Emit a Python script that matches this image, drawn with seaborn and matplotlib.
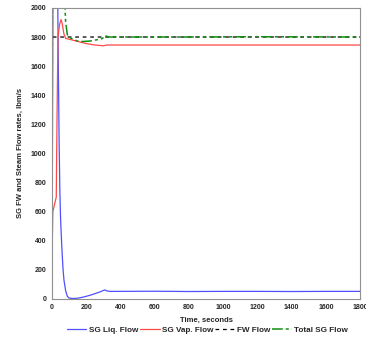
import numpy as np
import pandas as pd
import matplotlib
matplotlib.use('Agg')
import matplotlib.pyplot as plt
import seaborn as sns

# values (time in s, flow in lbm/s)
liq_t = [0, 4, 6, 30, 34, 38, 42, 46, 50, 55, 60, 65, 70, 80, 90, 100, 120, 150, 180, 200, 230, 260, 280, 300, 310, 320, 340, 400, 600, 800, 1000, 1200, 1400, 1600, 1800]
liq_v = [0, 1500, 2300, 2300, 2000, 1500, 1050, 750, 560, 420, 300, 200, 130, 55, 18, 6, 3, 5, 12, 18, 28, 40, 48, 58, 62, 55, 52, 52, 53, 51, 52, 52, 51, 52, 52]

vap_t = [0, 2, 5, 15, 25, 30, 35, 45, 53, 60, 70, 80, 100, 150, 200, 250, 300, 320, 400, 800, 1200, 1800]
vap_v = [0, 400, 600, 650, 700, 1300, 1800, 1890, 1920, 1890, 1820, 1790, 1785, 1770, 1755, 1745, 1740, 1745, 1745, 1745, 1745, 1745]

fw_t = [0, 1, 1800]
fw_v = [0, 1800, 1800]

tot_t = [0, 3, 60, 70, 80, 90, 100, 120, 160, 220, 280, 295, 310, 330, 400, 800, 1200, 1800]
tot_v = [0, 2500, 2500, 2150, 1900, 1815, 1800, 1785, 1768, 1772, 1785, 1790, 1810, 1800, 1800, 1800, 1802, 1800]

sns.set_style('white')
plt.rcParams['font.family'] = ['Liberation Sans', 'DejaVu Sans']
plt.rcParams['font.weight'] = 'bold'

fig = plt.figure(figsize=(3.66, 3.44), dpi=100)
ax = fig.add_axes([0.142, 0.131, 0.842, 0.846])

sns.lineplot(x=liq_t, y=liq_v, ax=ax, color='#5050ff', lw=0.9, label='SG Liq. Flow')
sns.lineplot(x=vap_t, y=vap_v, ax=ax, color='#ff4848', lw=0.9, label='SG Vap. Flow')
sns.lineplot(x=fw_t, y=fw_v, ax=ax, color='black', lw=0.9, label='FW Flow')
sns.lineplot(x=tot_t, y=tot_v, ax=ax, color='#109010', lw=1.1, label='Total SG Flow')
ax.lines[2].set_dashes((3, 3))
ax.lines[3].set_dashes((7, 2, 2, 2, 2, 2))

ax.set_xlim(0, 1800)
ax.set_ylim(0, 2000)
ax.set_xticks(range(0, 1801, 200))
ax.set_yticks(range(0, 2001, 200))
ax.tick_params(labelsize=5, length=2, width=0.5, direction='out', pad=2)
for s in ax.spines.values():
    s.set_color('#909090')
    s.set_linewidth(0.8)

ax.set_xlabel('Time, seconds', fontsize=5.5, fontweight='bold', labelpad=4)
ax.set_ylabel('SG FW and Steam Flow rates, lbm/s', fontsize=5.5, fontweight='bold', labelpad=5)

leg = ax.legend(loc='center', bbox_to_anchor=(0.567, 0.04), bbox_transform=fig.transFigure,
                ncol=4, frameon=False, fontsize=5.9, handlelength=2.4, columnspacing=0.2,
                handletextpad=0.3)
leg.get_lines()[2].set_dashes((3, 3))
leg.get_lines()[3].set_dashes((7, 2, 2, 2, 2, 2))

fig.savefig('out.png', dpi=100)
